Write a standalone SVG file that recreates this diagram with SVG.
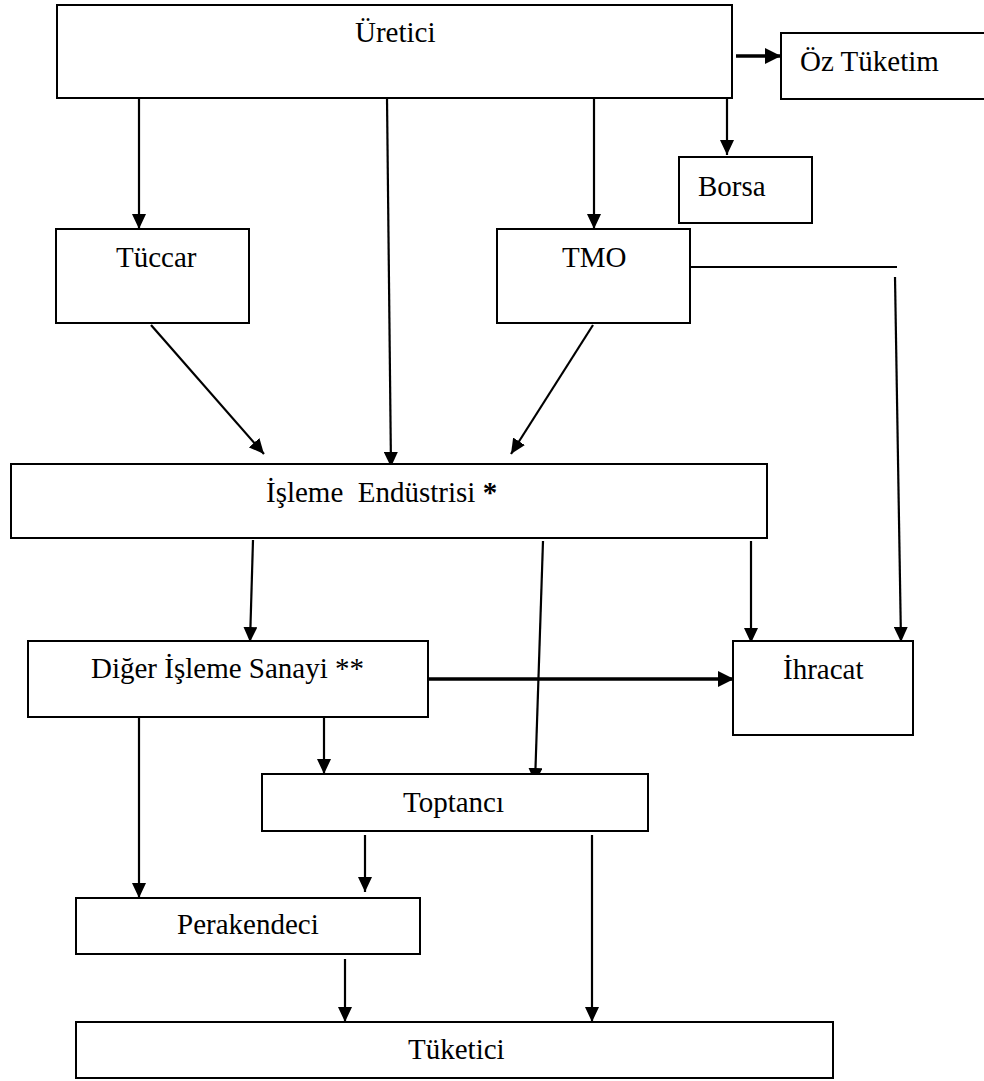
<svg xmlns="http://www.w3.org/2000/svg" width="984" height="1081" viewBox="0 0 984 1081">
<defs>
<style>
.box{fill:#fff;stroke:#000;stroke-width:2}
.lbl{font-family:"Liberation Serif","Times New Roman",serif;font-size:29px;fill:#000}
.c{fill:none;stroke:#000;stroke-width:2.2}
.ct{fill:none;stroke:#000;stroke-width:3.5}
</style>
<marker id="ah" markerUnits="userSpaceOnUse" markerWidth="15" markerHeight="14" refX="15" refY="7" orient="auto">
<path d="M0,0 L15,7 L0,14 z" fill="#000"/>
</marker>
<marker id="ahb" markerUnits="userSpaceOnUse" markerWidth="16" markerHeight="16" refX="16" refY="8" orient="auto">
<path d="M0,0 L16,8 L0,16 z" fill="#000"/>
</marker>
</defs>
<rect width="984" height="1081" fill="#fff"/>
<g id="connectors">
<line class="ct" x1="736" y1="56" x2="781" y2="56" marker-end="url(#ahb)"/>
<line class="c" x1="727" y1="85" x2="727" y2="155" marker-end="url(#ah)"/>
<line class="c" x1="139" y1="98" x2="139" y2="229" marker-end="url(#ah)"/>
<line class="c" x1="387" y1="98" x2="391" y2="467" marker-end="url(#ah)"/>
<line class="c" x1="594" y1="98" x2="594" y2="229" marker-end="url(#ah)"/>
<line class="c" x1="690" y1="267" x2="897" y2="267"/>
<line class="c" x1="895" y1="277" x2="901" y2="642" marker-end="url(#ah)"/>
<line class="c" x1="151" y1="325" x2="264" y2="454" marker-end="url(#ah)"/>
<line class="c" x1="593" y1="325" x2="511" y2="454" marker-end="url(#ah)"/>
<line class="c" x1="253" y1="540" x2="250" y2="642" marker-end="url(#ah)"/>
<line class="c" x1="543" y1="541" x2="535" y2="783" marker-end="url(#ah)"/>
<line class="c" x1="751" y1="541" x2="751" y2="643" marker-end="url(#ah)"/>
<line class="ct" x1="428" y1="679" x2="734" y2="679" marker-end="url(#ahb)"/>
<line class="c" x1="139" y1="717" x2="139" y2="898" marker-end="url(#ah)"/>
<line class="c" x1="324" y1="712" x2="324" y2="774" marker-end="url(#ah)"/>
<line class="c" x1="365" y1="835" x2="365" y2="892" marker-end="url(#ah)"/>
<line class="c" x1="592" y1="835" x2="592" y2="1022" marker-end="url(#ah)"/>
<line class="c" x1="345" y1="959" x2="345" y2="1022" marker-end="url(#ah)"/>
</g>
<g id="uretici"><rect class="box" x="57" y="5" width="675" height="93"/><text class="lbl" x="355" y="42">Üretici</text></g>
<g id="oz-tuketim"><rect class="box" x="781" y="33" width="215" height="66"/><text class="lbl" x="800" y="71">Öz Tüketim</text></g>
<g id="borsa"><rect class="box" x="679" y="157" width="133" height="66"/><text class="lbl" x="698" y="196">Borsa</text></g>
<g id="tuccar"><rect class="box" x="56" y="229" width="193" height="94"/><text class="lbl" x="116" y="267">Tüccar</text></g>
<g id="tmo"><rect class="box" x="497" y="229" width="193" height="94"/><text class="lbl" x="562" y="267">TMO</text></g>
<g id="isleme"><rect class="box" x="11" y="464" width="756" height="74"/><text class="lbl" x="266" y="502" xml:space="preserve">İşleme  Endüstrisi <tspan font-weight="bold">*</tspan></text></g>
<g id="diger"><rect class="box" x="28" y="641" width="400" height="76"/><text class="lbl" x="91" y="678">Diğer İşleme Sanayi **</text></g>
<g id="ihracat"><rect class="box" x="733" y="641" width="180" height="94"/><text class="lbl" x="783" y="679">İhracat</text></g>
<g id="toptanci"><rect class="box" x="262" y="774" width="386" height="57"/><text class="lbl" x="403" y="812">Toptancı</text></g>
<g id="perakendeci"><rect class="box" x="76" y="898" width="344" height="56"/><text class="lbl" x="177" y="934">Perakendeci</text></g>
<g id="tuketici"><rect class="box" x="76" y="1022" width="757" height="56"/><text class="lbl" x="408" y="1059">Tüketici</text></g>
</svg>
